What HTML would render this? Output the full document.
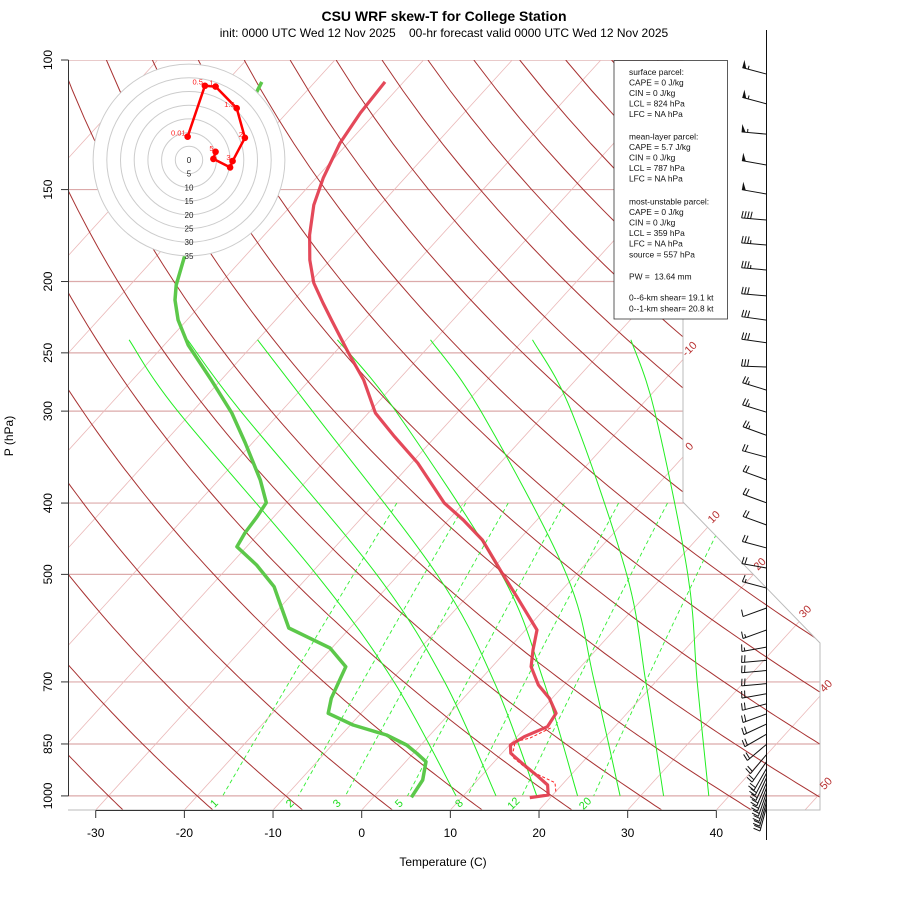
<!DOCTYPE html>
<html><head><meta charset="utf-8"><title>CSU WRF skew-T</title>
<style>
html,body{margin:0;padding:0;background:#fff;}
svg{display:block;font-family:"Liberation Sans",sans-serif;}
</style></head>
<body>
<svg id="chart" width="900" height="900" viewBox="0 0 900 900" xmlns="http://www.w3.org/2000/svg">
<defs><clipPath id="plotclip"><polygon points="68,60 683,60 683,502 820,643 820,810 68,810"/></clipPath></defs>
<rect x="0" y="0" width="900" height="900" fill="#fff"/>
<text x="444" y="21" text-anchor="middle" font-size="14" font-weight="bold">CSU WRF skew-T for College Station</text>
<text x="444" y="37" text-anchor="middle" font-size="12" xml:space="preserve">init: 0000 UTC Wed 12 Nov 2025    00-hr forecast valid 0000 UTC Wed 12 Nov 2025</text>
<g id="bg" clip-path="url(#plotclip)"></g>
<g id="traces"></g>
<g id="axes"></g>
<g id="hodo"></g>
<g id="barbs"></g>
<g>
<rect x="614" y="60.5" width="113.5" height="258.5" fill="#fff" stroke="#333" stroke-width="0.8"/>
<g font-size="8.4" fill="#111">
<text x="629" y="75">surface parcel:</text>
<text x="629" y="85.5">CAPE = 0 J/kg</text>
<text x="629" y="96">CIN = 0 J/kg</text>
<text x="629" y="106.5">LCL = 824 hPa</text>
<text x="629" y="117">LFC = NA hPa</text>
<text x="629" y="139.5">mean-layer parcel:</text>
<text x="629" y="150">CAPE = 5.7 J/kg</text>
<text x="629" y="160.5">CIN = 0 J/kg</text>
<text x="629" y="171">LCL = 787 hPa</text>
<text x="629" y="181.5">LFC = NA hPa</text>
<text x="629" y="204.5">most-unstable parcel:</text>
<text x="629" y="215">CAPE = 0 J/kg</text>
<text x="629" y="225.5">CIN = 0 J/kg</text>
<text x="629" y="236">LCL = 359 hPa</text>
<text x="629" y="246.5">LFC = NA hPa</text>
<text x="629" y="257.5">source = 557 hPa</text>
<text x="629" y="279.5" xml:space="preserve">PW =  13.64 mm</text>
<text x="629" y="300.5">0--6-km shear= 19.1 kt</text>
<text x="629" y="311.5">0--1-km shear= 20.8 kt</text>
</g></g>
</svg>
<script>
// ---- sounding data ----
const tempP = [107.1,118.0,129.7,144.7,157.4,172.9,187.0,200.9,213.9,225.6,250.1,272.2,301.8,325.0,352.9,399.9,421.8,449.0,497.9,536.2,595.1,633.5,667.4,706.8,736.8,772.2,805.3,830.9,852.8,875.3,907.9,941.7,966.5,997.2,1005.7];
const tempT = [-72.1,-71.7,-70.9,-69.2,-67.5,-64.9,-62.3,-59.5,-56.4,-53.7,-48.4,-43.9,-39.2,-34.6,-29.3,-22.2,-18.3,-14.1,-8.5,-4.4,1.3,2.9,4.4,7.1,9.7,12.0,12.4,10.8,10.1,11.0,13.7,16.5,18.4,19.5,17.7];
const dewP = [107.1,111.6,132.5,162.4,184.1,202.2,211.9,225.6,243.9,272.2,301.8,331.5,372.2,399.5,417.4,439.3,458.5,485.5,519.7,541.8,591.3,629.5,667.4,736.8,772.2,801.0,826.5,852.8,875.3,898.5,951.5,1004.3];
const dewT = [-86.0,-85.4,-82.6,-79.3,-76.9,-74.8,-73.4,-71.0,-67.3,-61.1,-55.4,-50.8,-45.3,-42.3,-41.9,-41.6,-41.1,-37.0,-32.8,-30.9,-26.9,-20.2,-16.5,-14.9,-13.7,-9.7,-4.9,-1.6,0.4,2.3,3.8,4.3];
const parcelP = [808.6,834.3,844.0,884.6,922.1,959.5,991.9];
const parcelT = [12.9,11.6,10.3,11.5,14.7,19.0,20.2];
// hodograph (kt)
const hodoU = [-0.5,5.8,9.7,17.4,20.4,15.9,15.0,8.9,9.7];
const hodoV = [8.5,27.1,26.8,18.9,8.1,-0.4,-2.7,0.4,3.0];
const hodoLabels = ["0.01","0.5","1","1.5","2","3","","","5"];
const hodoRings = [5,10,15,20,25,30,35];
// winds
const windP = [104.5,114.7,126.1,138.9,152.1,165.0,178.4,192.9,209.2,225.7,242.2,261.3,280.9,301.0,323.6,346.5,372.0,399.7,428.4,460.3,490.1,521.9,555.5,595.0,627.8,654.3,675.5,703.8,726.4,749.7,773.8,798.7,824.5,851.1,878.6,898.4,918.0,931,945,960,975,990,1005,1020,1035];
const windDir = [285,285,275,280,280,275,275,275,275,278,278,272,287,287,290,285,290,290,290,285,280,285,250,250,260,265,265,265,260,255,250,245,240,230,220,215,210,207,205,203,201,199,197,196,195];
const windSpd = [55,55,55,50,50,40,35,35,30,30,30,30,25,25,25,20,20,20,20,20,20,15,10,15,15,20,20,20,20,20,20,20,20,20,20,20,20,20,20,20,20,20,20,20,20];
// background diagram lines
const presLevels = [100,150,200,250,300,400,500,700,850,1000];
const tempTicks = [-30,-20,-10,0,10,20,30,40];
const isoTemps = [-140,-130,-120,-110,-100,-90,-80,-70,-60,-50,-40,-30,-20,-10,0,10,20,30,40,50];
const isoLabelTemps = [-10,0,10,20,30,40,50];
const thetaC = [-40,-30,-20,-10,0,10,20,30,40,50,60,70,80,90,100,110,120,130,140,150,160,170,180,190,200];
const mixRatios = [1,2,3,5,8,12,20];
const moistP = [1000,700,500,300,240];
const moistT = [[9.2,-9.5,-29.3,-61.7,-74.5],[13.7,-3.8,-22.5,-54.6,-67.9],[18.3,1.8,-15.7,-46.5,-60.0],[22.9,7.4,-8.4,-37.1,-51.0],[27.7,13.1,-1.1,-27.5,-40.5],[32.6,18.9,5.7,-17.3,-29.0],[37.7,24.7,12.6,-7.9,-17.9]];

const NS="http://www.w3.org/2000/svg";
function Y(p){return 60+319.6*Math.log(p/100);}
function X(T,p){return 361.7+8.866*T+0.91*(810-Y(p));}
function mk(parent,tag,attrs){const e=document.createElementNS(NS,tag);for(const k in attrs)e.setAttribute(k,attrs[k]);parent.appendChild(e);return e;}
function pts(ps,ts){return ps.map((p,i)=>X(ts[i],p).toFixed(1)+","+Y(p).toFixed(1)).join(" ");}
const bg=document.getElementById('bg'), tr=document.getElementById('traces'), ax=document.getElementById('axes'), ho=document.getElementById('hodo'), bb=document.getElementById('barbs');

// pressure lines
presLevels.forEach(p=>{
  const l=mk(bg,'line',{x1:68,x2:820,y1:Y(p),y2:Y(p),stroke:'#dcaaaa','stroke-width':1.2});
  
  
});
// isotherms
isoTemps.forEach(T=>{
  const x0=361.7+8.866*T;
  const l=mk(bg,'line',{x1:x0,y1:810,x2:x0+0.91*750,y2:60,stroke:'#eab8b8','stroke-width':0.8});
  
  
});
// dry adiabats
thetaC.forEach(th=>{
  const a=[];for(let p=100;p<=1050;p+=10){const T=(th+273.15)*Math.pow(p/1000,0.2857)-273.15;a.push(X(T,p).toFixed(1)+","+Y(p).toFixed(1));}
  const l=mk(bg,'polyline',{points:a.join(" "),fill:'none',stroke:'#a83232','stroke-width':1});
  
  
});
// moist adiabats (catmull-rom through read points)
moistT.forEach(ts=>{
  const P=moistP.map((p,i)=>[X(ts[i],p),Y(p)]);
  let d="M"+P[0][0].toFixed(1)+","+P[0][1].toFixed(1);
  for(let i=0;i<P.length-1;i++){const p0=P[Math.max(i-1,0)],p1=P[i],p2=P[i+1],p3=P[Math.min(i+2,P.length-1)];
    d+=" C"+(p1[0]+(p2[0]-p0[0])/6).toFixed(1)+","+(p1[1]+(p2[1]-p0[1])/6).toFixed(1)+" "+(p2[0]-(p3[0]-p1[0])/6).toFixed(1)+","+(p2[1]-(p3[1]-p1[1])/6).toFixed(1)+" "+p2[0].toFixed(1)+","+p2[1].toFixed(1);}
  const l=mk(bg,'path',{d:d,fill:'none',stroke:'#22ee22','stroke-width':1});
  
  
});
// mixing ratio lines
function tdMix(w,p){const e=w*p/(622+w);const g=Math.log(e/6.112);return 243.5*g/(17.67-g);}
mixRatios.forEach(w=>{
  const a=[];for(let p=400;p<=1000;p+=20){a.push(X(tdMix(w,p),p).toFixed(1)+","+Y(p).toFixed(1));}
  const l=mk(bg,'polyline',{points:a.join(" "),fill:'none',stroke:'#33ee33','stroke-width':0.9,'stroke-dasharray':'4,3'});
  
  
  const x=X(tdMix(w,1000),1000)-6, y=806;
  const t=mk(ax,'text',{x:x,y:y,'font-size':11,fill:'#22dd22','text-anchor':'middle',transform:`rotate(-45 ${x} ${y})`});
  t.textContent=w;
  
  
});
// boundary
const bd=mk(ax,'polyline',{points:"683,60 683,502 820,643 820,810 68,810",fill:'none',stroke:'#bbb','stroke-width':1});


// isotherm labels at boundary exit
function inside(x,y){if(y<60||y>810||x<68)return false;if(y<=502)return x<=683;if(y<=643)return x<=683+(y-502)*0.972;return x<=820;}
isoLabelTemps.forEach(T=>{
  let lx=0,ly=0;for(let y=810;y>=60;y-=0.5){const x=361.7+8.866*T+0.91*(810-y);if(inside(x,y)){lx=x;ly=y;}else if(lx)break;}
  const x=lx+9,y=ly-8;
  const t=mk(ax,'text',{x:x,y:y,'font-size':11,fill:'#b83030','text-anchor':'middle',transform:`rotate(-45 ${x} ${y})`});
  t.textContent=T;
  
  
});
// traces
const dl=mk(tr,'polyline',{points:pts(dewP,dewT),fill:'none',stroke:'#5cc84a','stroke-width':3.5,'stroke-linejoin':'round'});


const pl=mk(tr,'polyline',{points:pts(parcelP,parcelT),fill:'none',stroke:'#ff2222','stroke-width':1,'stroke-dasharray':'3,2'});


const tl=mk(tr,'polyline',{points:pts(tempP,tempT),fill:'none',stroke:'#e23a4c','stroke-width':3.2,'stroke-linejoin':'round','stroke-opacity':0.92});


// axes
const ya=mk(ax,'line',{x1:68.5,x2:68.5,y1:Y(100),y2:Y(1000),stroke:'#333'});


presLevels.forEach(p=>{
  const t1=mk(ax,'line',{x1:61,x2:68.5,y1:Y(p),y2:Y(p),stroke:'#333'});
  
  
  const t=mk(ax,'text',{x:52,y:Y(p),'font-size':12,'text-anchor':'middle',transform:`rotate(-90 52 ${Y(p)})`});
  t.textContent=p;
  
  
});
const xa=mk(ax,'line',{x1:361.7+8.866*tempTicks[0],x2:361.7+8.866*tempTicks[tempTicks.length-1],y1:810.5,y2:810.5,stroke:'#333'});


tempTicks.forEach(T=>{
  const x=361.7+8.866*T;
  const tk=mk(ax,'line',{x1:x,x2:x,y1:810.5,y2:818,stroke:'#333'});
  
  
  const t=mk(ax,'text',{x:x,y:837,'font-size':12,'text-anchor':'middle'});
  t.textContent=T;
  
  
});
const xt=mk(ax,'text',{x:443,y:866,'font-size':12,'text-anchor':'middle'});
xt.textContent='Temperature (C)';


const yt=mk(ax,'text',{x:13,y:436,'font-size':12,'text-anchor':'middle',transform:'rotate(-90 13 436)'});
yt.textContent='P (hPa)';


// hodograph
const HC=[189,160], HS=2.74;
const hb=mk(ho,'circle',{cx:HC[0],cy:HC[1],r:HS*35,fill:'#fff',stroke:'none'});


hodoRings.forEach(s=>{
  const c=mk(ho,'circle',{cx:HC[0],cy:HC[1],r:HS*s,fill:'none',stroke:'#cccccc','stroke-width':1});
  
  
});
[0].concat(hodoRings).forEach(s=>{
  const t=mk(ho,'text',{x:HC[0],y:HC[1]+HS*s+3,'font-size':8,'text-anchor':'middle',fill:'#222'});
  t.textContent=s;
  
  
});
const hx=u=>HC[0]+HS*u, hy=v=>HC[1]-HS*v;
const hl=mk(ho,'polyline',{points:hodoU.map((u,i)=>hx(u).toFixed(1)+","+hy(hodoV[i]).toFixed(1)).join(" "),fill:'none',stroke:'#ff0000','stroke-width':2.5});


hodoU.forEach((u,i)=>{
  const c=mk(ho,'circle',{cx:hx(u),cy:hy(hodoV[i]),r:3.3,fill:'#ff0000'});
  
  
  if(hodoLabels[i]){
    const t=mk(ho,'text',{x:hx(u)-2,y:hy(hodoV[i])-1,'font-size':7.5,fill:'#ff2020','text-anchor':'end'});
    t.textContent=hodoLabels[i];
    
    
  }
});
// wind barbs
const staff=mk(bb,'line',{x1:766.5,x2:766.5,y1:30,y2:840,stroke:'#111'});


windP.forEach((p,i)=>{
  const g=mk(bb,'g',{stroke:'#111','stroke-width':1,fill:'#111'});
  
  
  const d=windDir[i]*Math.PI/180, L=25, x0=766.5, y0=Y(p);
  const sx=Math.sin(d), sy=-Math.cos(d);
  const ex=x0+L*sx, ey=y0+L*sy;
  mk(g,'line',{x1:x0,y1:y0,x2:ex,y2:ey});
  const px=-sy, py=sx; // perpendicular (up for westerly)
  let s=windSpd[i], pos=0;
  while(s>=50){const ax1=ex-sx*pos,ay1=ey-sy*pos,bx=ex-sx*(pos+4),by=ey-sy*(pos+4);
    mk(g,'polygon',{points:`${ax1},${ay1} ${bx},${by} ${ax1+px*8},${ay1+py*8}`,stroke:'none'});pos+=6;s-=50;}
  while(s>=10){const ax1=ex-sx*pos,ay1=ey-sy*pos;mk(g,'line',{x1:ax1,y1:ay1,x2:ax1+px*7-sx*1,y2:ay1+py*7-sy*1});pos+=3;s-=10;}
  if(s>=5){if(pos===0)pos=3;const ax1=ex-sx*pos,ay1=ey-sy*pos;mk(g,'line',{x1:ax1,y1:ay1,x2:ax1+px*3.5,y2:ay1+py*3.5});}
});
</script>
</body></html>
